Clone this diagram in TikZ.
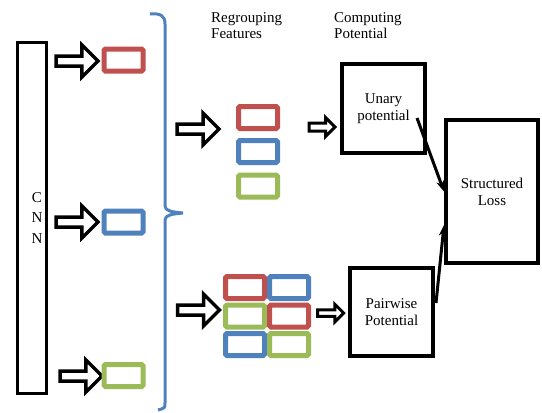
\documentclass[tikz,border=0pt]{standalone}
\usepackage{fontspec}
\setmainfont{Liberation Serif}
\usetikzlibrary{positioning, calc, shapes.arrows, arrows.meta}
\definecolor{featred}{HTML}{C0504D}
\definecolor{featblue}{HTML}{4F81BD}
\definecolor{featgreen}{HTML}{9BBB59}
\tikzset{
feat/.style={draw=#1, line width=5pt, rounded corners=1.5pt, minimum width=39pt, minimum height=22pt, inner sep=0pt},
bigarrow/.style={single arrow, draw=black, line width=3.5pt, inner sep=0pt, text height=6.5pt, text depth=0pt, single arrow head extend=11pt, minimum height=42pt},
smallarrow/.style={single arrow, draw=black, line width=3pt, inner sep=0pt, text height=5pt, text depth=0pt, single arrow head extend=5.5pt, minimum height=26pt},
potbox/.style={draw=black, line width=4pt, align=center, inner sep=0pt, font=\fontsize{15}{17}\selectfont},
conn/.style={-{Stealth[length=11pt,width=8pt]}, line width=3pt},
}

\begin{document}
\begin{tikzpicture}[x=1pt,y=-1pt]
\useasboundingbox (0,0) rectangle (542,413);

% CNN column
\node[draw=black, line width=3.5pt, minimum width=29pt, minimum height=351pt, inner sep=0pt] (cnn) at (32,218) {};
\node[align=center, inner sep=0pt, font=\fontsize{15}{20.5}\selectfont] (cnnlabel) at (37,218) {C\\N\\N};

\node[bigarrow] (a1) at (74.5,61) {};
\node[bigarrow] (a2) at (74.5,222) {};
\node[bigarrow] (a3) at (78.5,376) {};
\node[feat=featred] (r1) at (123.5,60) {};
\node[feat=featblue] (b1) at (123.5,222) {};
\node[feat=featgreen] (g1) at (123.5,375.5) {};

% brace
\draw[featblue, line width=3pt] (150,14) .. controls (161,13) and (165,16) .. (165,24) -- (165,206)
  .. controls (165,211) and (172,212) .. (183,213) .. controls (172,214) and (165,215) .. (165,220)
  -- (165,403) .. controls (165,408) .. (158,410);

% regrouping
\node[anchor=north west, align=left, inner sep=0pt, font=\fontsize{15}{16.5}\selectfont] (regroup) at (211,12) {Regrouping\\Features};
\node[anchor=north west, align=left, inner sep=0pt, font=\fontsize{15}{16.5}\selectfont] (compute) at (334,12) {Computing\\Potential};

\node[bigarrow] (a4) at (195.5,129) {};
\node[feat=featred] (r2) at (258,117.5) {};
\node[feat=featblue] (b2) at (258,151.5) {};
\node[feat=featgreen] (g2) at (258,186) {};

\node[bigarrow] (a5) at (196,310) {};
\node[feat=featred] (r3) at (245,287.5) {};
\node[feat=featblue] (b3) at (289,287.5) {};
\node[feat=featgreen] (g3) at (245,316) {};
\node[feat=featred] (r4) at (289,316) {};
\node[feat=featblue] (b4) at (245,344.5) {};
\node[feat=featgreen] (g4) at (289,344.5) {};

% potentials
\node[smallarrow] (a6) at (320,127) {};
\node[smallarrow, text height=3.5pt] (a7) at (329,313) {};
\node[potbox, minimum width=83pt, minimum height=89pt] (unary) at (383.5,108.5) {Unary\\potential};
\node[potbox, minimum width=83pt, minimum height=88pt] (pair) at (391.5,312) {Pairwise\\Potential};
\node[potbox, minimum width=92pt, minimum height=143pt] (loss) at (492,191.5) {Structured\\Loss};

\coordinate (ustart) at (417,118);
\draw[conn] (ustart) -- (loss.west);
\draw[conn] ($(pair.east)+(1,-9)$) -- ($(loss.south west)+(0,-40)$);
\end{tikzpicture}
\end{document}
